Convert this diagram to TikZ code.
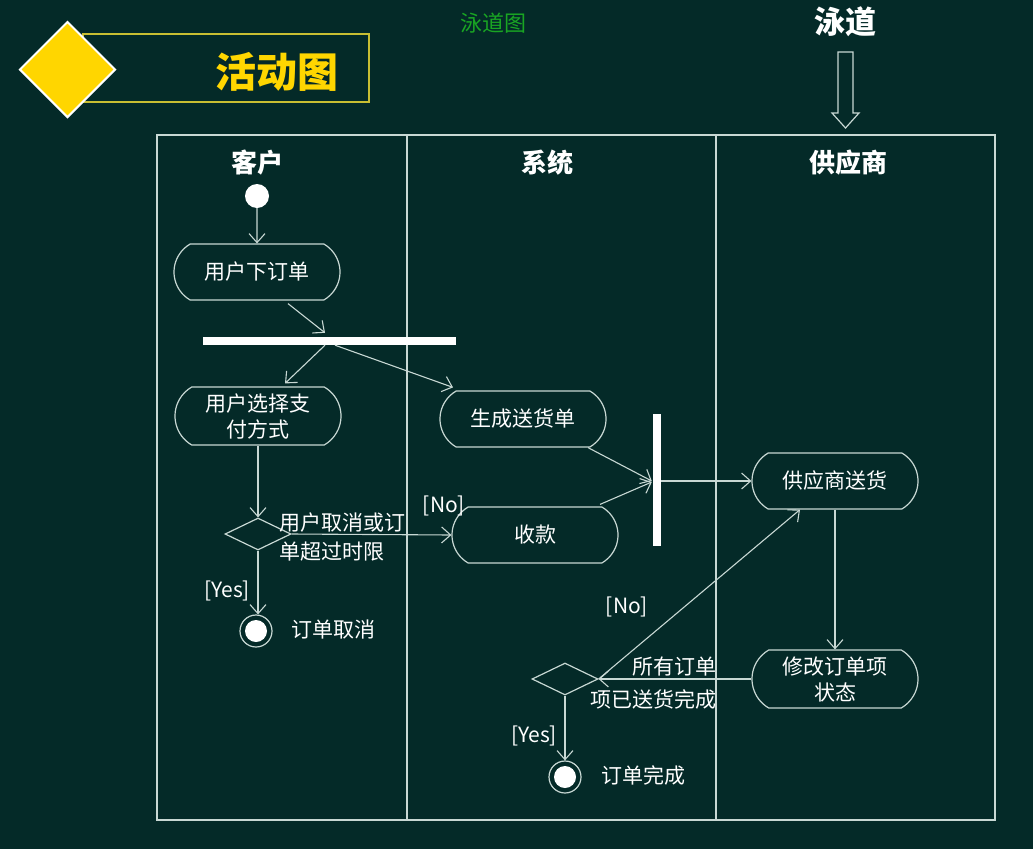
\documentclass[tikz,border=0pt]{standalone}
\usepackage{fontspec}
\newfontfamily\cjk{Noto Sans CJK SC}
\usetikzlibrary{arrows.meta,shapes.misc,shapes.geometric,calc}
\definecolor{bg}{RGB}{4,42,40}
\definecolor{ln}{RGB}{200,216,212}
\definecolor{ttl}{RGB}{255,214,0}
\definecolor{gold}{RGB}{200,190,50}
\definecolor{grn}{RGB}{25,165,35}
\begin{document}
\begin{tikzpicture}[x=1pt,y=-1pt,
  act/.style={draw=ln, line width=1.2pt, rounded rectangle, rounded rectangle arc length=120,
    minimum width=166pt, minimum height=56pt, text=white, align=center, inner sep=0pt,
    font=\cjk\fontsize{21}{26}\selectfont},
  flow/.style={draw=ln, line width=1.1pt, -{Straight Barb[length=9pt,width=16pt,line width=1.1pt]}},
  dec/.style={draw=ln, line width=1.2pt, diamond, minimum width=66pt, minimum height=32pt, inner sep=0pt},
  barnode/.style={fill=white, draw=none, inner sep=0pt},
  lbl/.style={text=white, font=\cjk\fontsize{21}{25}\selectfont, inner sep=0pt},
  lane/.style={text=white, font=\cjk\bfseries\fontsize{26}{30}\selectfont, inner sep=0pt},
  startnode/.style={circle, fill=white, minimum size=24pt, inner sep=0pt},
  endnode/.style={circle, draw=ln, line width=1.2pt, minimum size=32pt, inner sep=0pt,
    path picture={\fill[white] (path picture bounding box.center) circle (11pt);}}
]
\useasboundingbox (0,0) rectangle (1033,849);
\fill[bg] (0,0) rectangle (1033,849);

% title
\draw[gold, line width=1.2pt] (83,34) rectangle (369,102);
\node[diamond, fill=ttl, draw=white, line width=2pt, minimum width=96pt, minimum height=96pt, inner sep=0pt] (tdia) at (67.5,69.5) {};
\node[text=ttl, font=\cjk\bfseries\fontsize{41}{45}\selectfont, inner sep=0pt] (title) at (277,72) {活动图};
\node[text=grn, font=\cjk\fontsize{22}{25}\selectfont, inner sep=0pt] (sub) at (493,23) {泳道图};
\node[text=white, font=\cjk\bfseries\fontsize{31}{34}\selectfont, inner sep=0pt] (yd) at (845,22) {泳道};
\draw[ln, line width=1.2pt] (838,52) -- (853,52) -- (853,113) -- (859,113) -- (845.5,128) -- (832,113) -- (838,113) -- cycle;

% swimlanes
\draw[ln, line width=1.4pt] (157,135) rectangle (995,820);
\draw[ln, line width=1.4pt] (407,135) -- (407,820);
\draw[ln, line width=1.4pt] (716,135) -- (716,820);
\node[lane] (l1) at (257,163) {客户};
\node[lane] (l2) at (547,163) {系统};
\node[lane] (l3) at (848,163) {供应商};

% nodes
\node[startnode] (init) at (257,196) {};
\node[act] (a1) at (257,272) {用户下订单};
\node[barnode, minimum width=253pt, minimum height=8pt] (fork) at (329.5,341) {};
\node[act, minimum height=58pt] (a2) at (258,416) {用户选择支\\付方式};
\node[act] (a3) at (523,419) {生成送货单};
\node[dec] (d1) at (258,534) {};
\node[act] (a4) at (535,535) {收款};
\node[endnode] (f1) at (256,631) {};
\node[lbl, anchor=west] (t1) at (291,629) {订单取消};
\node[barnode, minimum width=8pt, minimum height=132pt] (join) at (657,480) {};
\node[act] (a5) at (835,481) {供应商送货};
\node[act, minimum height=58pt] (a6) at (835,679) {修改订单项\\状态};
\node[dec] (d2) at (565,679) {};
\node[endnode] (f2) at (565,777) {};
\node[lbl, anchor=west] (t2) at (601,775) {订单完成};

% flows
\draw[flow] (init) -- (a1);
\draw[flow] ($(a1.south)+(31,3)$) -- ($(fork.north)+(-4.5,-4)$);
\draw[flow] ($(fork.south)+(-4.5,0)$) -- ($(a2.north)+(27,-3)$);
\draw[flow] ($(fork.south)+(5.5,0)$) -- ($(a3.north)+(-70,-3)$);
\draw[flow] (a2.south) -- (d1.north);
\draw[flow] (d1.east) -- (a4.west);
\node[lbl, anchor=west, align=left, font=\cjk\fontsize{21}{29}\selectfont] (c1) at (279,537) {用户取消或订\\单超过时限};
\node[lbl] (no1) at (444,506) {[No]};
\draw[flow] (d1.south) -- (d1.south |- f1.north);
\node[lbl] (yes1) at (227,591) {[Yes]};
\draw[flow] ($(a3.south)+(65,0)$) -- ($(join.west)+(-1,1)$);
\draw[flow] ($(a4.north)+(65,-2)$) -- ($(join.west)+(-1,2)$);
\draw[flow] (join.east |- a5) -- (a5.west);
\draw[flow] (a5.south) -- (a6.north);
\draw[flow] (a6.west) -- (d2.east);
\node[lbl, anchor=east, align=right, font=\cjk\fontsize{21}{33}\selectfont] (c2) at (717,683) {所有订单\\项已送货完成};
\draw[flow] (d2.east) -- ($(a5.south)+(-35,0)$);
\node[lbl] (no2) at (627,607) {[No]};
\draw[flow] (d2.south) -- (f2.north);
\node[lbl] (yes2) at (534,736) {[Yes]};
\end{tikzpicture}
\end{document}
